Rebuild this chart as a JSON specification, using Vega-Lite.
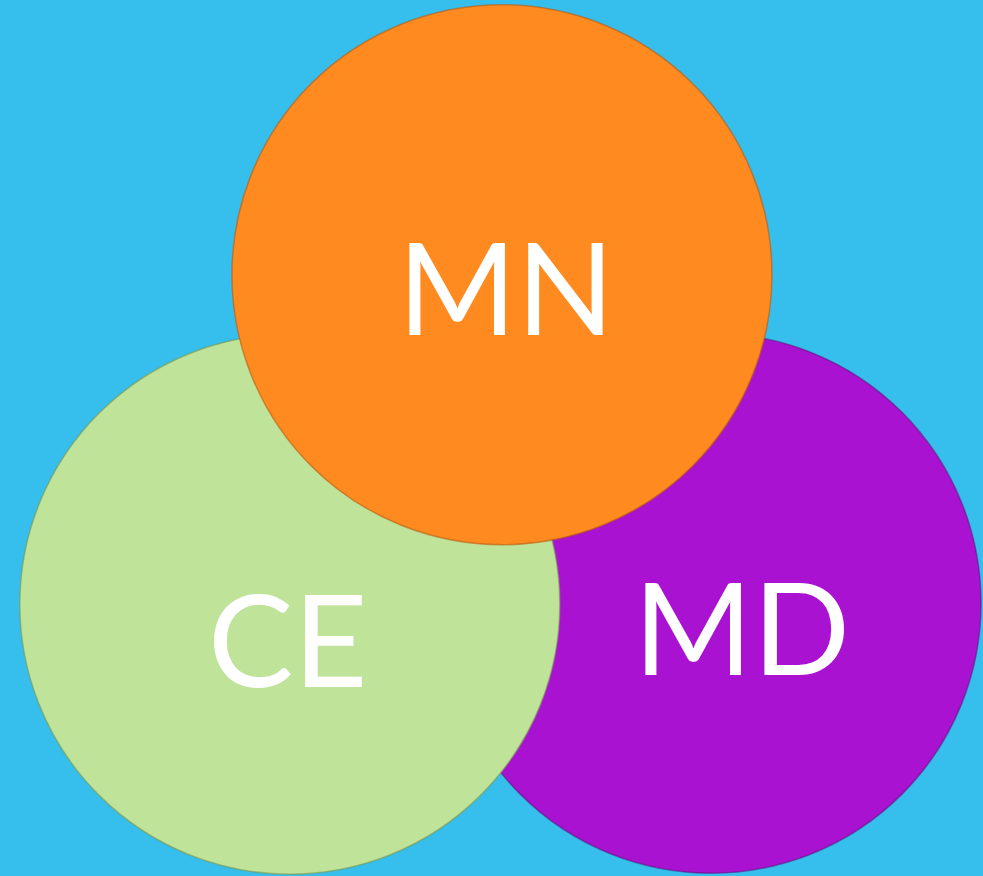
{
  "$schema": "https://vega.github.io/schema/vega-lite/v6.json",
  "autosize": {"type": "fit", "contains": "padding"},
  "width": 983,
  "height": 876,
  "padding": 0,
  "background": "#36BEEC",
  "config": {"view": {"stroke": null}},
  "data": {
    "values": [
      {"label": "MD", "cx": 714, "cy": 606, "tx": 745, "ty": 640},
      {"label": "CE", "cx": 291, "cy": 607, "tx": 289, "ty": 652},
      {"label": "MN", "cx": 504, "cy": 276, "tx": 508, "ty": 298}
    ]
  },
  "encoding": {
    "x": {"field": "cx", "type": "quantitative", "scale": {"domain": [0, 983], "nice": false, "zero": false}, "axis": null},
    "y": {"field": "cy", "type": "quantitative", "scale": {"domain": [876, 0], "nice": false, "zero": false}, "axis": null},
    "color": {
      "field": "label",
      "type": "nominal",
      "scale": {"domain": ["MD", "CE", "MN"], "range": ["#AA12D2", "#C0E39A", "#FE8A20"]},
      "legend": null
    }
  },
  "layer": [
    {
      "transform": [{"filter": "datum.label == 'MD'"}],
      "mark": {"type": "point", "shape": "circle", "filled": true, "opacity": 1, "size": 291600, "stroke": "#5a1070", "strokeOpacity": 0.5, "strokeWidth": 1.5}
    },
    {
      "transform": [{"filter": "datum.label == 'CE'"}],
      "mark": {"type": "point", "shape": "circle", "filled": true, "opacity": 1, "size": 291600, "stroke": "#7a9a50", "strokeOpacity": 0.6, "strokeWidth": 1.5}
    },
    {
      "transform": [{"filter": "datum.label == 'MN'"}],
      "mark": {"type": "point", "shape": "circle", "filled": true, "opacity": 1, "size": 291600, "stroke": "#b85c10", "strokeOpacity": 0.6, "strokeWidth": 1.5}
    },
    {
      "mark": {"type": "text", "font": "Lato", "fontSize": 128, "fontWeight": "normal", "align": "center", "baseline": "middle"},
      "encoding": {
        "x": {"field": "tx", "type": "quantitative"},
        "y": {"field": "ty", "type": "quantitative"},
        "text": {"field": "label"},
        "color": {"value": "#FFFFFF"}
      }
    }
  ]
}
